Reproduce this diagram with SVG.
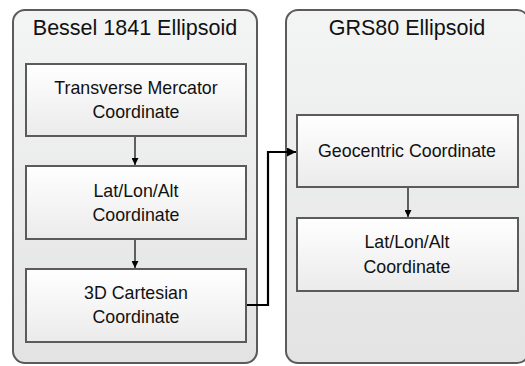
<svg xmlns="http://www.w3.org/2000/svg" width="525" height="366" viewBox="0 0 525 366">
  <defs>
    <linearGradient id="gCont" x1="0" y1="0" x2="0" y2="1">
      <stop offset="0" stop-color="#f3f4f4"/>
      <stop offset="1" stop-color="#e3e3e3"/>
    </linearGradient>
    <linearGradient id="gBox" x1="0" y1="0" x2="0" y2="1">
      <stop offset="0" stop-color="#ffffff"/>
      <stop offset="1" stop-color="#ebebeb"/>
    </linearGradient>
    <marker id="arrSmall" viewBox="0 0 10 10" refX="10" refY="5" markerWidth="7" markerHeight="7" markerUnits="userSpaceOnUse" orient="auto">
      <path d="M0,0 L10,5 L0,10 z" fill="#000"/>
    </marker>
    <marker id="arrBig" viewBox="0 0 10 10" refX="10" refY="5" markerWidth="9" markerHeight="9" markerUnits="userSpaceOnUse" orient="auto">
      <path d="M0,0 L10,5 L0,10 z" fill="#000"/>
    </marker>
  </defs>
  <style>
    .cont { fill: url(#gCont); stroke: #5b5b5b; stroke-width: 2; }
    .box { fill: url(#gBox); stroke: #5b5b5b; stroke-width: 2; }
    .title { font-family: "Liberation Sans", Arial, sans-serif; font-size: 21.5px; fill: #111; text-anchor: middle; }
    .lbl { font-family: "Liberation Sans", Arial, sans-serif; font-size: 17.8px; fill: #111; text-anchor: middle; }
    .thin { fill: none; stroke: #000; stroke-width: 1.2; }
    .thick { fill: none; stroke: #000; stroke-width: 2.2; }
  </style>

  <g id="bessel">
    <rect class="cont" x="13" y="10" width="244" height="353" rx="12" ry="12"/>
    <text class="title" x="135" y="35">Bessel 1841 Ellipsoid</text>
  </g>
  <g id="grs80">
    <rect class="cont" x="286" y="10" width="243" height="353" rx="12" ry="12"/>
    <text class="title" x="407" y="35">GRS80 Ellipsoid</text>
  </g>

  <g id="tm">
    <rect class="box" x="26" y="64" width="220" height="72"/>
    <text class="lbl" x="136" y="94">Transverse Mercator</text>
    <text class="lbl" x="136" y="118">Coordinate</text>
  </g>
  <g id="lla1">
    <rect class="box" x="26" y="166" width="220" height="73"/>
    <text class="lbl" x="136" y="197">Lat/Lon/Alt</text>
    <text class="lbl" x="136" y="221">Coordinate</text>
  </g>
  <g id="cart">
    <rect class="box" x="26" y="269" width="220" height="73"/>
    <text class="lbl" x="136" y="299">3D Cartesian</text>
    <text class="lbl" x="136" y="323">Coordinate</text>
  </g>
  <g id="geo">
    <rect class="box" x="297" y="115" width="221" height="72"/>
    <text class="lbl" x="407" y="157">Geocentric Coordinate</text>
  </g>
  <g id="lla2">
    <rect class="box" x="297" y="218" width="221" height="73"/>
    <text class="lbl" x="407" y="248">Lat/Lon/Alt</text>
    <text class="lbl" x="407" y="273">Coordinate</text>
  </g>

  <g id="connectors">
    <line class="thin" x1="135" y1="137" x2="135" y2="165" marker-end="url(#arrSmall)"/>
    <line class="thin" x1="135" y1="240" x2="135" y2="268" marker-end="url(#arrSmall)"/>
    <line class="thin" x1="408" y1="188" x2="408" y2="217" marker-end="url(#arrSmall)"/>
    <polyline class="thick" points="247,305 268,305 268,152 296,152" marker-end="url(#arrBig)"/>
  </g>
</svg>
